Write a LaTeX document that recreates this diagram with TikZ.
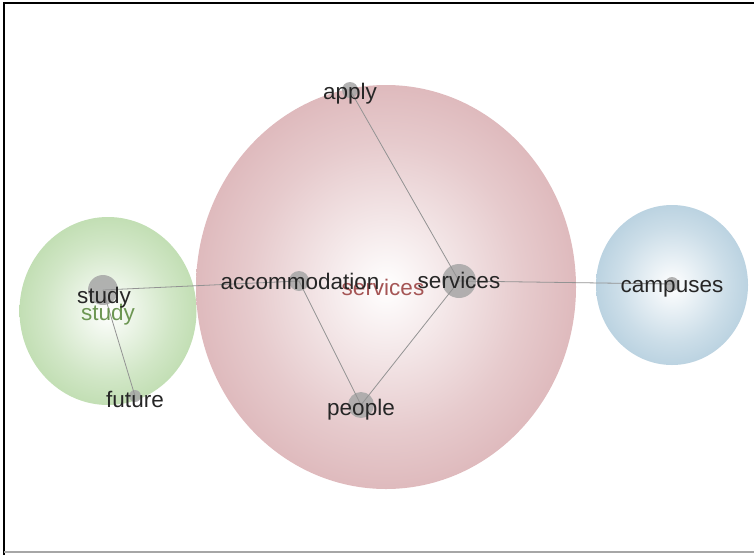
\documentclass[tikz,border=0pt]{standalone}
\usepackage{fontspec}
\setmainfont{Liberation Sans}
\usetikzlibrary{shapes.geometric}
\definecolor{clred}{RGB}{200,138,143}
\definecolor{clgreen}{RGB}{152,200,128}
\definecolor{clblue}{RGB}{140,180,204}
\definecolor{dotgray}{RGB}{166,166,166}
\definecolor{redlabel}{RGB}{165,85,85}
\definecolor{greenlabel}{RGB}{108,150,82}
\pgfdeclareradialshading{redball}{\pgfpoint{0bp}{0bp}}{color(0bp)=(white); color(18bp)=(clred!45); color(38bp)=(clred!85); color(50bp)=(clred)}
\pgfdeclareradialshading{greenball}{\pgfpoint{0bp}{0bp}}{color(0bp)=(white); color(18bp)=(clgreen!45); color(38bp)=(clgreen!85); color(50bp)=(clgreen)}
\pgfdeclareradialshading{blueball}{\pgfpoint{0bp}{0bp}}{color(0bp)=(white); color(18bp)=(clblue!45); color(38bp)=(clblue!85); color(50bp)=(clblue)}
\tikzset{cluster/.style={ellipse,draw=none,inner sep=0pt,outer sep=0pt},
	word dot/.style={circle,fill=dotgray,fill opacity=0.85,inner sep=0pt},
	word/.style={font=\fontsize{22.5}{26}\selectfont,text=black!85,inner sep=0pt,anchor=base},
	link/.style={draw=gray!85,line width=0.8pt},}

\begin{document}
\begin{tikzpicture}[x=1pt,y=-1pt]
	\useasboundingbox (0,0) rectangle (754,555);
	\draw[line width=1.2pt] (4,555) -- (4,3) -- (754,3);
	\draw[line width=1.2pt,gray!70] (4,552) -- (754,552);

	% clusters
	\node[cluster, shading=greenball, minimum width=177, minimum height=188] (studyC) at (108,311) {};
	\node[cluster, shading=redball, minimum width=380, minimum height=404] (servicesC) at (386,287) {};
	\node[cluster, shading=blueball, minimum width=152, minimum height=160] (campusesC) at (672,285) {};

	% word dots
	\node[word dot, minimum size=16] (applyD) at (350,90) {};
	\node[word dot, minimum size=20] (accomD) at (299,281) {};
	\node[word dot, minimum size=34] (servicesD) at (459,281) {};
	\node[word dot, minimum size=26] (peopleD) at (361,405) {};
	\node[word dot, minimum size=30] (studyD) at (103,290) {};
	\node[word dot, minimum size=12] (futureD) at (135,396) {};
	\node[word dot, minimum size=14] (campusesD) at (672,284) {};

	\path[link]
	(studyD.center) edge (accomD.center)
	(studyD.center) edge (futureD.center)
	(accomD.center) edge (peopleD.center)
	(peopleD.center) edge (servicesD.center)
	(servicesD.center) edge (applyD.center)
	(servicesD.center) edge (campusesD.center);

	% cluster labels
	\node[word, text=redlabel] (servicesL) at (383,295) {services};
	\node[word, text=greenlabel] (studyL) at (108,320) {study};

	% words
	\node[word] (apply) at (350,99) {apply};
	\node[word] (accom) at (300,289) {accommodation};
	\node[word] (services) at (459,288) {services};
	\node[word] (people) at (361,415) {people};
	\node[word] (study) at (104,303) {study};
	\node[word] (future) at (135,407) {future};
	\node[word] (campuses) at (672,292) {campuses};
\end{tikzpicture}
\end{document}
